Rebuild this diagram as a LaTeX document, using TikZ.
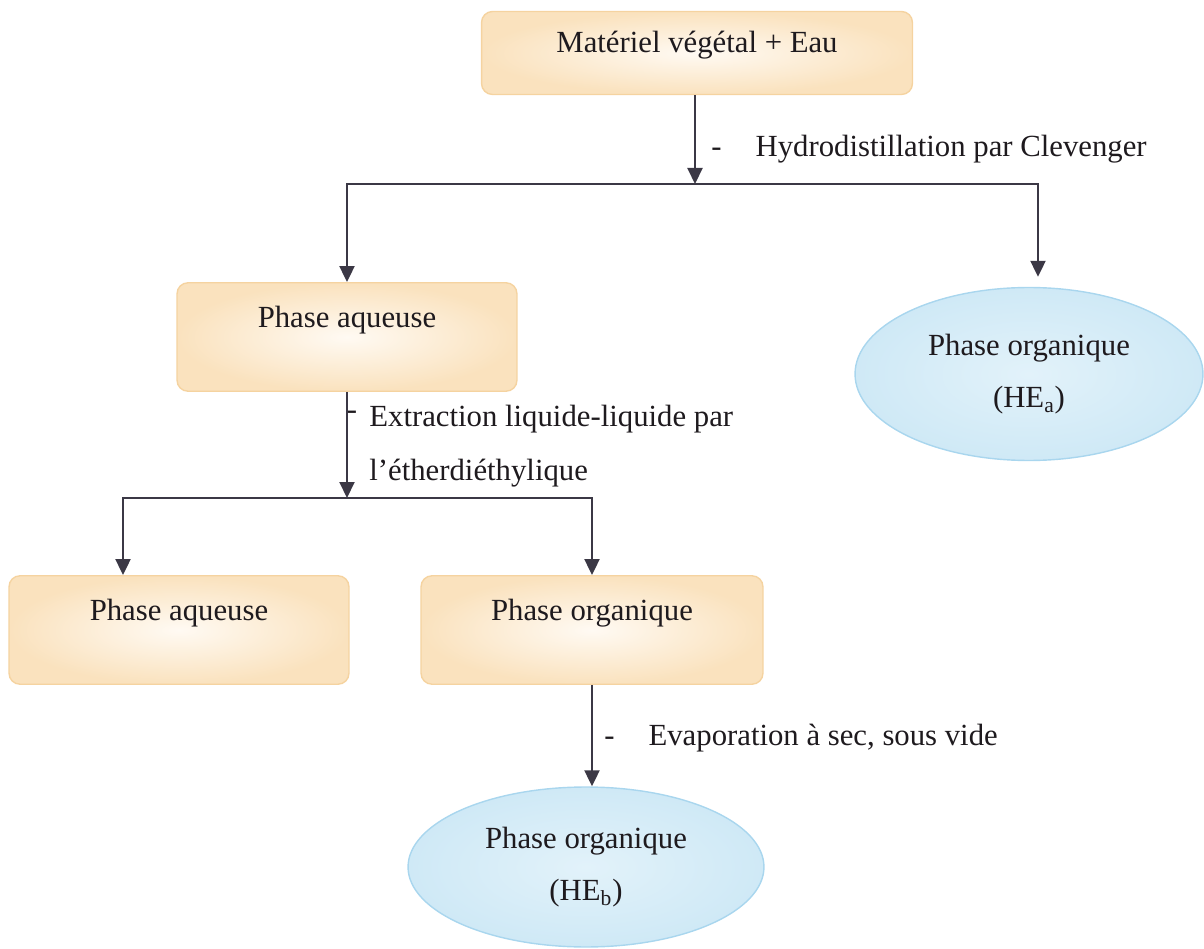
\documentclass[tikz,border=0pt]{standalone}
\usepackage{fontspec}
\setmainfont{Liberation Serif}
\usetikzlibrary{arrows.meta,shapes.geometric}
\definecolor{ink}{HTML}{1E1A1E}
\definecolor{arrowgrey}{HTML}{3B3845}
\definecolor{peachin}{HTML}{FFFAF3}
\definecolor{peachout}{HTML}{FAE2BE}
\definecolor{peachedge}{HTML}{F5D3A0}
\definecolor{skyin}{HTML}{E2F2FA}
\definecolor{skyout}{HTML}{CFE9F6}
\definecolor{skyedge}{HTML}{A9D6EE}

\begin{document}
\begin{tikzpicture}[x=0.02cm,y=-0.02cm,
  phasebox/.style={rectangle,rounded corners=0.22cm,draw=peachedge,line width=0.8pt,inner color=peachin,outer color=peachout,inner xsep=0pt,inner ysep=0pt,minimum width=6.8cm,text height=0.9cm,text depth=1.27cm,font=\fontsize{17.5}{30}\selectfont,text=ink},
  phaseoval/.style={ellipse,draw=skyedge,line width=0.8pt,inner color=skyin,outer color=skyout,inner sep=0pt,align=center,font=\fontsize{17.5}{30}\selectfont,text=ink},
  steptext/.style={inner sep=0pt,anchor=base west,font=\fontsize{17.5}{30}\selectfont,text=ink},
  flow/.style={-{Triangle[length=0.32cm,width=0.3cm]},arrowgrey,line width=1.2pt}]
\useasboundingbox (0,0) rectangle (1204,949);

% boxes and ovals
\node[phasebox,minimum width=8.62cm,text height=0.82cm,text depth=0.84cm] (top) at (697,53) {Matériel végétal + Eau};
\node[phasebox] (aq1) at (347,337) {Phase aqueuse};
\node[phaseoval,minimum width=6.96cm,minimum height=3.46cm] (hea) at (1029,374) {Phase organique\\(HE\textsubscript{a})};
\node[phasebox] (aq2) at (179,630) {Phase aqueuse};
\node[phasebox,minimum width=6.84cm] (org2) at (592,630) {Phase organique};
\node[phaseoval,minimum width=7.12cm,minimum height=3.2cm] (heb) at (586,867) {Phase organique\\(HE\textsubscript{b})};

% split points
\coordinate (j1) at (695,184);
\coordinate (j2) at (347,498);

% step labels
\node[steptext] (hydro) at (711,157) {-\hspace{0.68cm}Hydrodistillation par Clevenger};
\node[steptext,anchor=center] (dash2) at (352,415) {-};
\node[steptext] (extr) at (369,427) {Extraction liquide-liquide par};
\node[steptext] (ether) at (369,480) {l’étherdiéthylique};
\node[steptext] (evap) at (604,745) {-\hspace{0.68cm}Evaporation à sec, sous vide};

% arrows
\draw[flow] (top.south -| j1) -- (j1);
\draw[flow] (j1) -| (aq1.north);
\draw[flow,shorten >=0.2cm] (j1) -| ([xshift=0.18cm]hea.north);
\draw[flow] (aq1.south) -- (j2);
\draw[flow] (j2) -| ([xshift=-1.12cm]aq2.north);
\draw[flow] (j2) -| (org2.north);
\draw[flow] (org2.south) -- (org2.south |- heb.north);
\end{tikzpicture}
\end{document}
